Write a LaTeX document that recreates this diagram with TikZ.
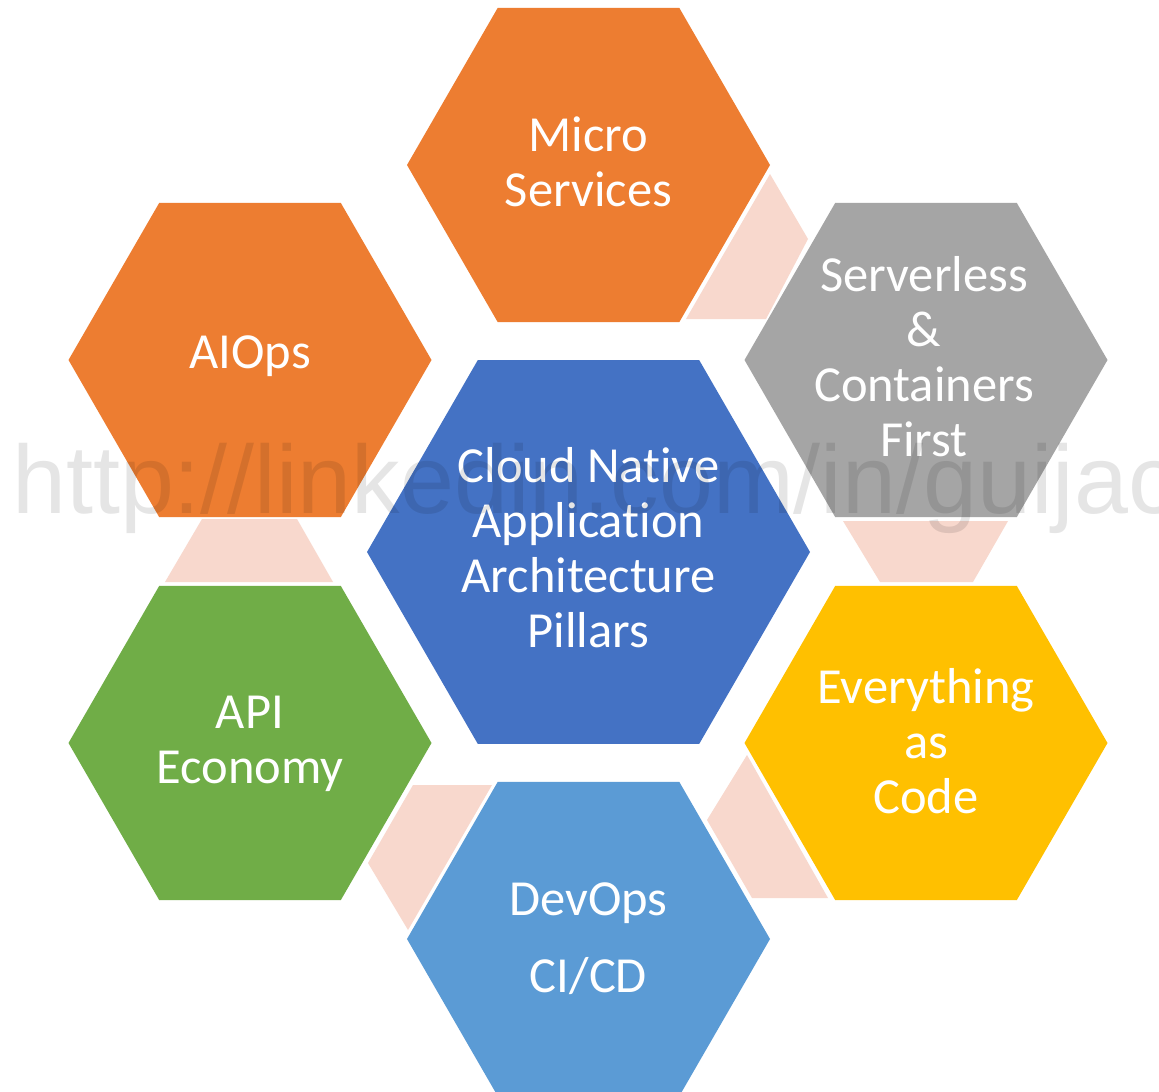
\documentclass[tikz,border=0pt]{standalone}
\usepackage{fontspec}
\setmainfont{Carlito}[Ligatures={NoCommon}]
\newfontfamily\wmfont{Liberation Sans}
\definecolor{cblue}{HTML}{4472C4}
\definecolor{corange}{HTML}{ED7D31}
\definecolor{cgrey}{HTML}{A5A5A5}
\definecolor{cgold}{HTML}{FFC000}
\definecolor{cgreen}{HTML}{70AD47}
\definecolor{clblue}{HTML}{5B9BD5}
\definecolor{cpeach}{HTML}{F8D8CD}
\newcommand\hs{\rule[-14pt]{0pt}{54pt}}
\newcommand\hexshape[3]{\fill[#3] (#1) +(0:#2) -- +(60:#2) -- +(120:#2) -- +(180:#2) -- +(240:#2) -- +(300:#2) -- cycle;}
\tikzset{
  lbl/.style={text=white, align=center, inner sep=0pt, font=\fontsize{50.5}{55}\selectfont},
  link/.style={fill=cpeach, draw=none},
  wmark/.style={anchor=base west, inner sep=0pt, text=black, text opacity=0.1, font=\wmfont\fontsize{97}{97}\selectfont}
}
\begin{document}
\begin{tikzpicture}[x=1pt,y=-1pt]
\useasboundingbox (0,0) rectangle (1159,1092);
\clip (0,0) rectangle (1159,1092);
\fill[white] (0,0) rectangle (1159,1092);
% centres
\coordinate (cCenter) at (588.5,552);
\coordinate (cMicro) at (588.5,165);
\coordinate (cAIOps) at (250,360);
\coordinate (cServ) at (926,360);
\coordinate (cAPI) at (250,743);
\coordinate (cCode) at (926,743);
\coordinate (cDev) at (588.5,939);
% connectors
\fill[link] (770,174) -- (808,239) -- (766,319) -- (686,319) -- cycle;
\fill[link] (843,521) -- (1008,521) -- (973,582) -- (880,582) -- cycle;
\fill[link] (747,755) -- (828,898) -- (752,898) -- (707,820) -- cycle;
\fill[link] (492,785) -- (408,930) -- (368,863) -- (413,785) -- cycle;
\fill[link] (165,582) -- (333,582) -- (297,519) -- (202,519) -- cycle;
% hexagons
\hexshape{cCenter}{221.5}{cblue}
\hexshape{cMicro}{181.5}{corange}
\hexshape{cAIOps}{181.5}{corange}
\hexshape{cServ}{181.5}{cgrey}
\hexshape{cAPI}{181.5}{cgreen}
\hexshape{cCode}{181.5}{cgold}
\hexshape{cDev}{181.5}{clblue}
% labels
\node[lbl] (tCenter) at (588.5,552) {\hs Cloud Native\\\hs Application\\\hs Architecture\\\hs Pillars};
\node[lbl] (tMicro) at (588.5,166) {\hs Micro\\\hs Services};
\node[lbl] (tServ) at (924,361) {\hs Serverless\\\hs \&\\\hs Containers\\\hs First};
\node[lbl] (tAIOps) at (250,355) {\hs AIOps};
\node[lbl] (tAPI) at (250,742.5) {\hs API\\\hs Economy};
\node[lbl] (tCode) at (926,745) {\hs Everything\\\hs as\\\hs Code};
\node[lbl] (tDev) at (588.5,940.5) {\hs DevOps\\[22pt]\hs CI/CD};
% watermark
\node[wmark] (wm) at (12,513) {http://linkedin.com/in/guijac};
\end{tikzpicture}
\end{document}
